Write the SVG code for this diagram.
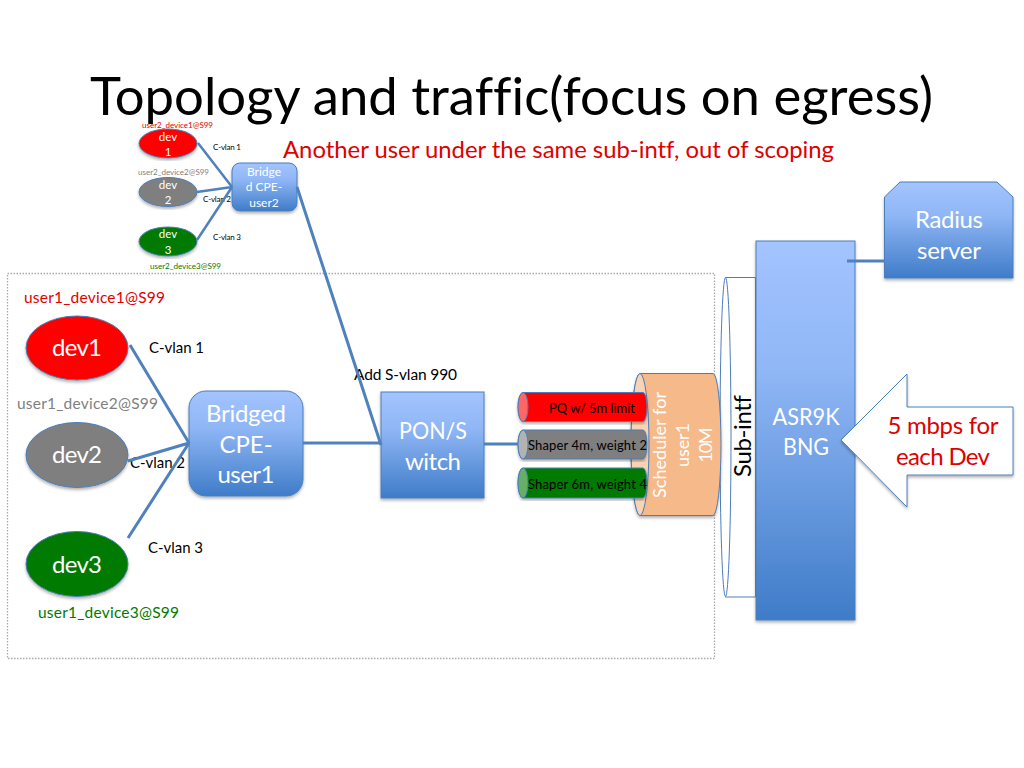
<svg xmlns="http://www.w3.org/2000/svg" width="1024" height="768" viewBox="0 0 1024 768">
<style>
text{font-family:"Lato","Liberation Sans",sans-serif;font-variant-ligatures:none}
.w{fill:#fff}.k{fill:#000}.m{text-anchor:middle}
.box{stroke:#4a7ebb;stroke-width:1;fill:url(#blue)}
.link{stroke:#4f81bd;stroke-width:3;fill:none}
.link2{stroke:#4f81bd;stroke-width:2.5;fill:none}
.el{stroke:#4a7ebb;stroke-width:1}
</style>
<defs>
<linearGradient id="blue" x1="0" y1="0" x2="0" y2="1"><stop offset="0" stop-color="#a3c4ff"/><stop offset=".35" stop-color="#8fb6f5"/><stop offset="1" stop-color="#3f7cc8"/></linearGradient>
<filter id="sh" x="-10%" y="-10%" width="120%" height="120%"><feDropShadow dx="0" dy="2" stdDeviation="1.500" flood-color="#000" flood-opacity=".3"/></filter>
</defs>
<rect x="7.500" y="273.500" width="707" height="385" fill="none" stroke="#aaa" stroke-width="1.300" stroke-dasharray="1.500 1.500"/>
<text x="90" y="115" font-size="53" class="k" textLength="843" lengthAdjust="spacingAndGlyphs">Topology and traffic(focus on egress)</text>
<text x="283" y="158" font-size="24" fill="#e00000" textLength="551" lengthAdjust="spacingAndGlyphs">Another user under the same sub-intf, out of scoping</text>
<g id="user2-dev1"><ellipse class="el" cx="168" cy="143.500" rx="29" ry="14.500" fill="#f00" filter="url(#sh)"/><text class="w m" x="168" y="141" font-size="11.500">dev</text><text class="w m" x="168" y="156" font-size="11.500">1</text></g>
<g id="user2-dev2"><ellipse class="el" cx="168" cy="192" rx="29" ry="14.500" fill="#7f7f7f" filter="url(#sh)"/><text class="w m" x="168" y="189" font-size="11.500">dev</text><text class="w m" x="168" y="204" font-size="11.500">2</text></g>
<g id="user2-dev3"><ellipse class="el" cx="168" cy="241.500" rx="29" ry="14.500" fill="#007a00" filter="url(#sh)"/><text class="w m" x="168" y="238" font-size="11.500">dev</text><text class="w m" x="168" y="254" font-size="11.500">3</text></g>
<text x="142" y="128" font-size="8" fill="#e00000" textLength="71">user2_device1@S99</text>
<text x="138" y="175" font-size="8" fill="#7f7f7f" textLength="71">user2_device2@S99</text>
<text x="150" y="269" font-size="8" fill="#007a00" textLength="71">user2_device3@S99</text>
<text x="213" y="150" font-size="8" class="k" textLength="28">C-vlan 1</text>
<text x="203" y="202" font-size="8" class="k" textLength="28">C-vlan 2</text>
<text x="213" y="240" font-size="8" class="k" textLength="28">C-vlan 3</text>
<g id="cpe-user2"><rect class="box" x="232" y="163" width="65" height="48" rx="8" filter="url(#sh)"/><text class="w m" x="264" y="176" font-size="12">Bridge</text><text class="w m" x="264" y="191" font-size="12">d CPE-</text><text class="w m" x="264" y="207" font-size="12">user2</text></g>
<g id="radius"><path class="box" d="M884.500 197L900 182H997L1013 197V278H884.500Z" filter="url(#sh)"/><text class="w m" x="949" y="228" font-size="24" textLength="68">Radius</text><text class="w m" x="949" y="259" font-size="24" textLength="64">server</text></g>
<text x="24" y="303" font-size="15.500" fill="#e00000" textLength="141">user1_device1@S99</text>
<text x="17" y="409" font-size="15.500" fill="#7f7f7f" textLength="141">user1_device2@S99</text>
<text x="38" y="618" font-size="15.500" fill="#007a00" textLength="141">user1_device3@S99</text>
<g id="dev1"><ellipse class="el" cx="77" cy="348" rx="51" ry="32" fill="#f00" filter="url(#sh)"/><text class="w m" x="77" y="356" font-size="24" textLength="50">dev1</text></g>
<g id="dev2"><ellipse class="el" cx="77" cy="455" rx="51" ry="32.500" fill="#7f7f7f" filter="url(#sh)"/><text class="w m" x="77" y="463" font-size="24" textLength="50">dev2</text></g>
<g id="dev3"><ellipse class="el" cx="77" cy="564" rx="51" ry="32.500" fill="#007a00" filter="url(#sh)"/><text class="w m" x="77" y="573" font-size="24" textLength="50">dev3</text></g>
<text x="149" y="353" font-size="15" class="k" textLength="55">C-vlan 1</text>
<text x="130" y="468" font-size="15" class="k" textLength="55">C-vlan 2</text>
<text x="148" y="553" font-size="15" class="k" textLength="55">C-vlan 3</text>
<text x="354" y="380" font-size="15.500" class="k" textLength="103">Add S-vlan 990</text>
<g id="cpe-user1"><rect class="box" x="189" y="391" width="114" height="105" rx="17" filter="url(#sh)"/><text class="w m" x="246" y="422" font-size="24" textLength="80">Bridged</text><text class="w m" x="246" y="453" font-size="24">CPE-</text><text class="w m" x="246" y="483" font-size="24" textLength="57">user1</text></g>
<g id="pon"><rect class="box" x="381" y="392" width="103" height="106" filter="url(#sh)"/><text class="w m" x="433" y="439" font-size="24" textLength="68" lengthAdjust="spacingAndGlyphs">PON/S</text><text class="w m" x="433" y="470" font-size="24" textLength="56">witch</text></g>
<g id="sub-intf"><path d="M725.500 277.500H755.500V597H725.500Z" fill="#fff" stroke="#4a7ebb"/><ellipse cx="725.500" cy="437" rx="5.500" ry="159.500" fill="#fff" stroke="#4a7ebb"/><text class="k m" transform="translate(751 436) rotate(-90)" font-size="24" textLength="82">Sub-intf</text></g>
<g id="scheduler"><path d="M640 373.500H713A8 71 0 0 1 713 515.500H640A9 71 0 0 1 640 373.500Z" fill="#f5b98a" stroke="#4a7ebb" filter="url(#sh)"/><ellipse cx="640" cy="444.500" rx="9" ry="71" fill="#f9d3b4" stroke="#4a7ebb"/><text class="w m" transform="translate(666 445) rotate(-90)" font-size="18" textLength="106">Scheduler for</text><text class="w m" transform="translate(689 445) rotate(-90)" font-size="18" textLength="44">user1</text><text class="w m" transform="translate(712 445) rotate(-90)" font-size="18" textLength="35">10M</text></g>
<g id="pq"><path d="M523 392.500H643A4 14.500 0 0 1 643 421.500H523A5 14.500 0 0 1 523 392.500Z" fill="#f00" stroke="#4a7ebb" filter="url(#sh)"/><ellipse cx="523" cy="407" rx="5" ry="14.500" fill="#ff6666" stroke="#4a7ebb"/><text x="549" y="413" font-size="13" class="k" textLength="86">PQ w/ 5m limit</text></g>
<g id="shaper4"><path d="M523 430H643A4 14.500 0 0 1 643 459H523A5 14.500 0 0 1 523 430Z" fill="#7f7f7f" stroke="#4a7ebb" filter="url(#sh)"/><ellipse cx="523" cy="444.500" rx="5" ry="14.500" fill="#b2b2b2" stroke="#4a7ebb"/><text x="528" y="450" font-size="13" class="k" textLength="119">Shaper 4m, weight 2</text></g>
<g id="shaper6"><path d="M523 468H643A4 15 0 0 1 643 498H523A5 15 0 0 1 523 468Z" fill="#007a00" stroke="#4a7ebb" filter="url(#sh)"/><ellipse cx="523" cy="483" rx="5" ry="15" fill="#66af66" stroke="#4a7ebb"/><text x="528" y="489" font-size="13" class="k" textLength="119">Shaper 6m, weight 4</text></g>
<g id="bng"><rect class="box" x="756" y="241" width="99" height="379" filter="url(#sh)"/><text class="w m" x="806" y="425" font-size="24" textLength="67" lengthAdjust="spacingAndGlyphs">ASR9K</text><text class="w m" x="806" y="455" font-size="24" textLength="46" lengthAdjust="spacingAndGlyphs">BNG</text></g>
<g id="callout"><path d="M841 440L907 374V407H1013V475H907V507Z" fill="#fff" stroke="#4a7ebb" filter="url(#sh)"/><text class="m" x="943" y="434" font-size="24" fill="#e00000" textLength="111">5 mbps for</text><text class="m" x="943" y="465" font-size="24" fill="#e00000" textLength="94">each Dev</text></g>
<g id="connectors">
<path class="link2" d="M198 143L232 187M197 192L232 187M197 240L232 187"/>
<path class="link" d="M297 187L381 445M303 443H381M130 345L189 443M128 461L189 443M128 538L189 443M484 444H518M847 261H885"/>
</g>
</svg>
